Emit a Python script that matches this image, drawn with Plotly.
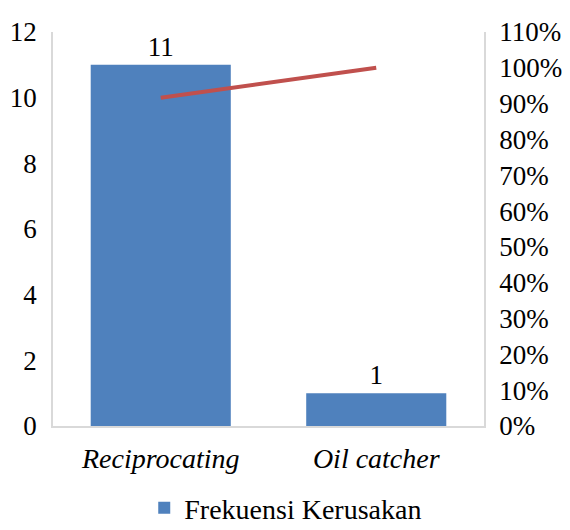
import plotly.graph_objects as go

# Damage frequency per component with cumulative percentage (Pareto)
categories = ["Reciprocating", "Oil catcher"]
frequency = [11, 1]
cumulative_pct = [0.9167, 1.0]

left_ticks = [0, 2, 4, 6, 8, 10, 12]
right_ticks = [i / 10 for i in range(0, 12)]

serif = "Liberation Serif"
axis_color = "#D9D9D9"

fig = go.Figure()

fig.add_trace(go.Bar(
    x=categories,
    y=frequency,
    name="Frekuensi Kerusakan",
    marker=dict(color="#4F81BD", line=dict(width=0)),
    text=[str(v) for v in frequency],
    textposition="outside",
    textfont=dict(family=serif, size=27, color="#000000"),
    cliponaxis=False,
))

fig.add_trace(go.Scatter(
    x=categories,
    y=cumulative_pct,
    mode="lines",
    line=dict(color="#C0504D", width=4),
    yaxis="y2",
    showlegend=False,
))

fig.update_layout(
    width=570,
    height=530,
    margin=dict(l=53, r=86, t=32, b=104, autoexpand=False),
    paper_bgcolor="white",
    plot_bgcolor="white",
    bargap=0.35,
    font=dict(family=serif, size=27, color="#000000"),
    xaxis=dict(
        type="category",
        showgrid=False,
        showline=True,
        linecolor=axis_color,
        linewidth=1.5,
        ticks="",
        tickfont=dict(family=serif, size=28, style="italic"),
        ticklabelstandoff=7,
    ),
    yaxis=dict(
        range=[0, 12],
        tickvals=left_ticks,
        showgrid=False,
        showline=True,
        linecolor=axis_color,
        linewidth=1.5,
        ticks="",
        zeroline=False,
        ticklabelstandoff=9,
        tickfont=dict(family=serif, size=27),
    ),
    yaxis2=dict(
        overlaying="y",
        side="right",
        range=[0, 1.1],
        tickvals=right_ticks,
        tickformat=".0%",
        showgrid=False,
        showline=True,
        linecolor=axis_color,
        linewidth=1.5,
        ticks="",
        zeroline=False,
        ticklabelstandoff=8,
        tickfont=dict(family=serif, size=27),
    ),
    legend=dict(
        orientation="h",
        x=0.54,
        xanchor="center",
        y=-0.208,
        yanchor="middle",
        itemwidth=30,
        font=dict(family=serif, size=28),
    ),
)

fig.write_html("out.html")
